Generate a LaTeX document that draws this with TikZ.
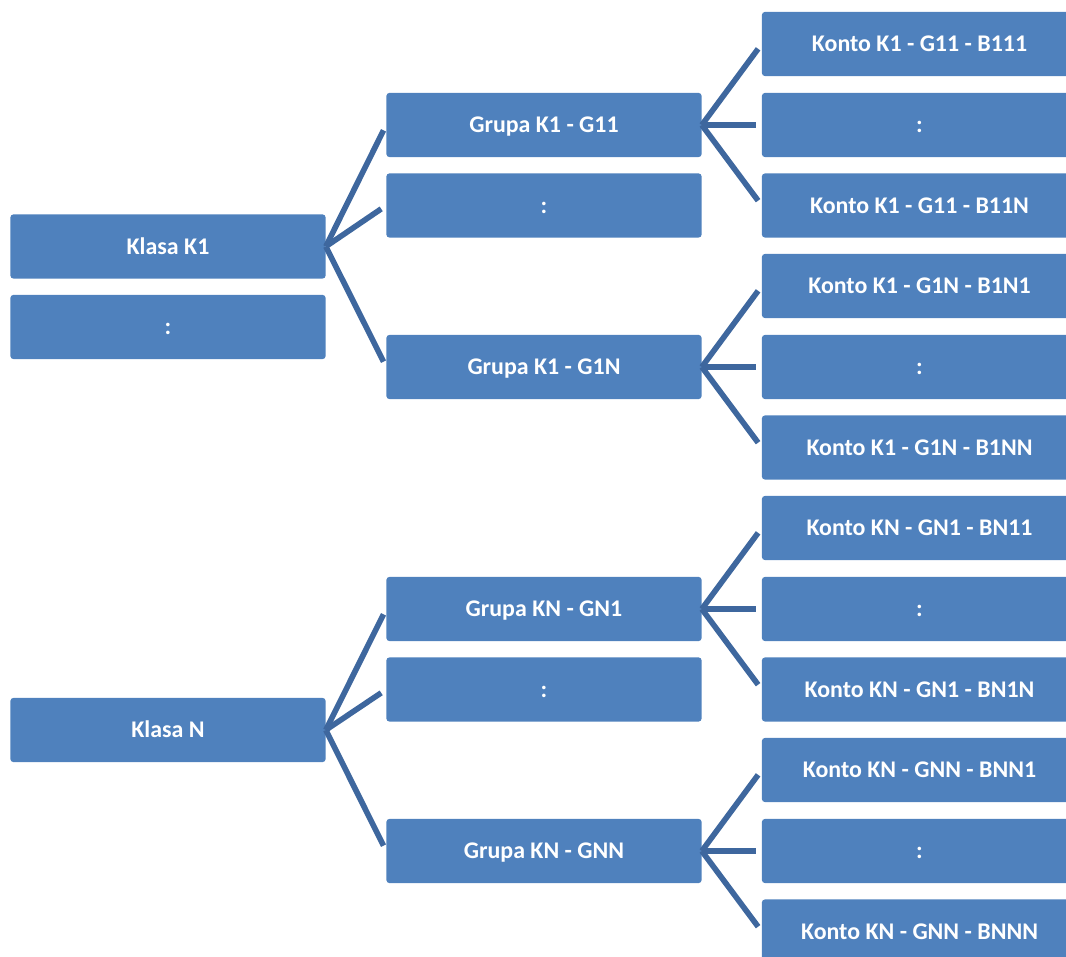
\documentclass[tikz,border=0pt]{standalone}
\usepackage{fontspec}
\setmainfont{Carlito}
\usetikzlibrary{arrows.meta}

\definecolor{boxblue}{RGB}{79,129,189}
\definecolor{linkblue}{RGB}{62,103,158}

\begin{document}
\begin{tikzpicture}[x = 0.025cm, y = -0.025cm,
    box/.style = {fill=boxblue, rounded corners=2pt, minimum width=7.875cm, minimum height=1.6cm, inner sep=0pt, text height=11pt, text depth=0pt, text=white, font=\fontsize{17}{20}\selectfont\bfseries},
    link/.style = {draw=linkblue, line width=4pt, shorten >=0.15cm}]

    % frame
    \useasboundingbox (0,0) rectangle (1066,957);
    \clip (0,0) rectangle (1066,957);

    % klasy
    \node[box] (k1)  at (168,246.5) {Klasa K1};
    \node[box] (k1d) at (168,327)   {:};
    \node[box] (kn)  at (168,730)   {Klasa N};

    % grupy
    \node[box] (g11) at (544,125)   {Grupa K1 - G11};
    \node[box] (g1d) at (544,205.5) {:};
    \node[box] (g1n) at (544,367)   {Grupa K1 - G1N};
    \node[box] (gn1) at (544,609)   {Grupa KN - GN1};
    \node[box] (gnd) at (544,689.5) {:};
    \node[box] (gnn) at (544,851)   {Grupa KN - GNN};

    % konta
    \node[box] (b111) at (919.5,44)    {Konto K1 - G11 - B111};
    \node[box] (b11d) at (919.5,125)   {:};
    \node[box] (b11n) at (919.5,205.5) {Konto K1 - G11 - B11N};
    \node[box] (b1n1) at (919.5,286)   {Konto K1 - G1N - B1N1};
    \node[box] (b1nd) at (919.5,367)   {:};
    \node[box] (b1nn) at (919.5,447.5) {Konto K1 - G1N - B1NN};
    \node[box] (bn11) at (919.5,528)   {Konto KN - GN1 - BN11};
    \node[box] (bn1d) at (919.5,609)   {:};
    \node[box] (bn1n) at (919.5,689.5) {Konto KN - GN1 - BN1N};
    \node[box] (bnn1) at (919.5,770)   {Konto KN - GNN - BNN1};
    \node[box] (bnnd) at (919.5,851)   {:};
    \node[box] (bnnn) at (919.5,931.5) {Konto KN - GNN - BNNN};

    % klasa -> grupa
    \draw[link] (k1.east) -- (g11.west);
    \draw[link] (k1.east) -- (g1d.west);
    \draw[link] (k1.east) -- (g1n.west);
    \draw[link] (kn.east) -- (gn1.west);
    \draw[link] (kn.east) -- (gnd.west);
    \draw[link] (kn.east) -- (gnn.west);

    % grupa -> konto
    \draw[link] (g11.east) -- (b111.west);
    \draw[link] (g11.east) -- (b11d.west);
    \draw[link] (g11.east) -- (b11n.west);
    \draw[link] (g1n.east) -- (b1n1.west);
    \draw[link] (g1n.east) -- (b1nd.west);
    \draw[link] (g1n.east) -- (b1nn.west);
    \draw[link] (gn1.east) -- (bn11.west);
    \draw[link] (gn1.east) -- (bn1d.west);
    \draw[link] (gn1.east) -- (bn1n.west);
    \draw[link] (gnn.east) -- (bnn1.west);
    \draw[link] (gnn.east) -- (bnnd.west);
    \draw[link] (gnn.east) -- (bnnn.west);

\end{tikzpicture}
\end{document}
